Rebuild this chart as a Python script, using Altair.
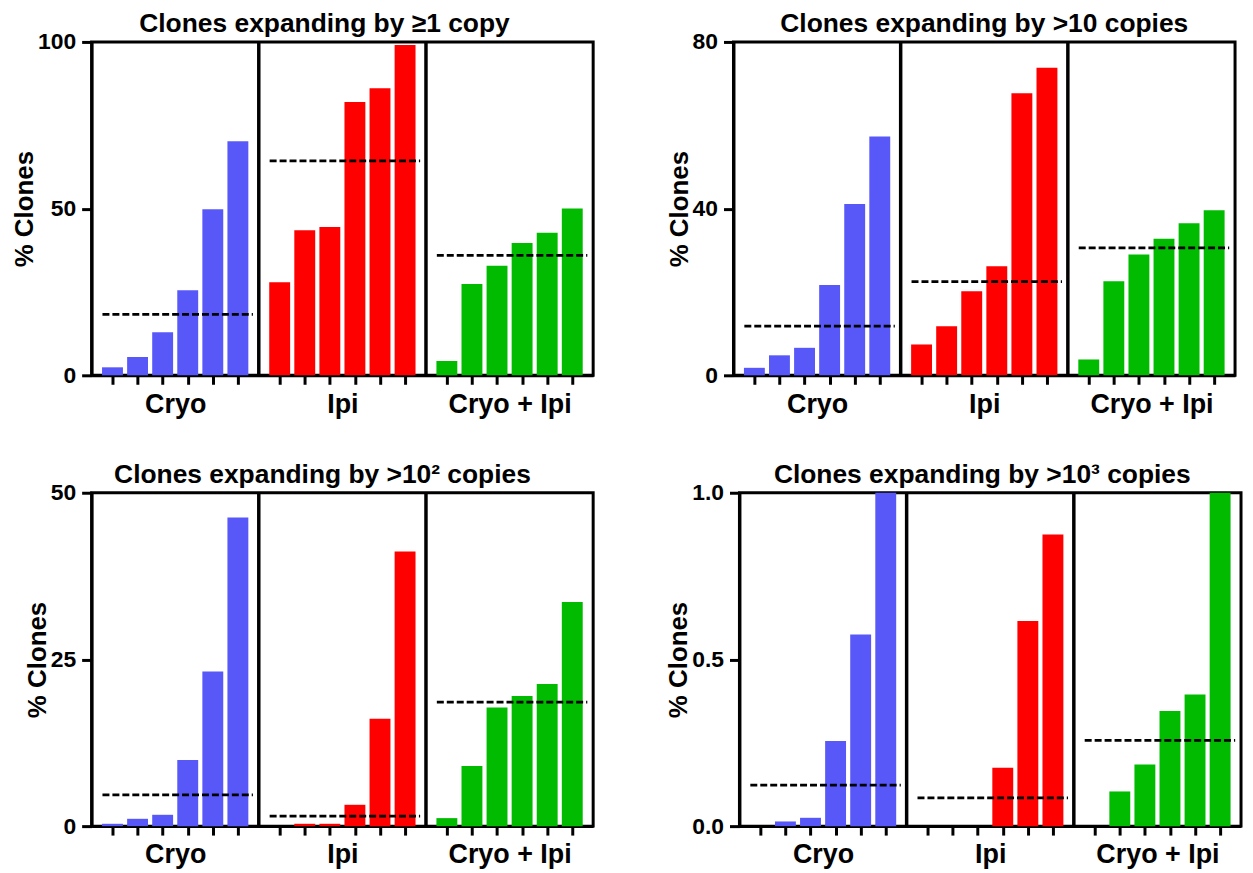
import altair as alt
import pandas as pd

GROUPS = ["Cryo", "Ipi", "Cryo + Ipi"]
COLORS = ["#5858F8", "#FF0000", "#00BB00"]

TITLES = [
    "Clones expanding by ≥1 copy",
    "Clones expanding by >10 copies",
    "Clones expanding by >10² copies",
    "Clones expanding by >10³ copies",
]

# panel 1: >=1 copy
P1_CRYO = [2.4, 5.5, 12.9, 25.5, 49.8, 70.2]
P1_IPI = [27.9, 43.5, 44.5, 82.0, 86.1, 99.1]
P1_COMBO = [4.3, 27.4, 32.9, 39.7, 42.8, 50.0]
P1_LINE = [18.3, 64.3, 36.0]

# panel 2: >10 copies
P2_CRYO = [1.8, 4.8, 6.6, 21.7, 41.1, 57.3]
P2_IPI = [7.4, 11.8, 20.2, 26.2, 67.7, 73.8]
P2_COMBO = [3.8, 22.6, 29.0, 32.8, 36.5, 39.6]
P2_LINE = [11.8, 22.5, 30.6]

# panel 3: >10^2 copies
P3_CRYO = [0.35, 1.1, 1.7, 9.9, 23.2, 46.3]
P3_IPI = [0.0, 0.35, 0.35, 3.2, 16.1, 41.2]
P3_COMBO = [1.2, 9.0, 17.8, 19.5, 21.3, 33.6]
P3_LINE = [4.7, 1.5, 18.6]

# panel 4: >10^3 copies
P4_CRYO = [0.0, 0.014, 0.025, 0.255, 0.575, 1.0]
P4_IPI = [0.0, 0.0, 0.0, 0.175, 0.615, 0.875]
P4_COMBO = [0.0, 0.104, 0.185, 0.345, 0.395, 1.0]
P4_LINE = [0.123, 0.085, 0.257]

Y_MAX = [100, 80, 50, 1.0]
Y_TICKS = [[0, 50, 100], [0, 40, 80], [0, 25, 50], [0, 0.5, 1.0]]
Y_FORMAT = ["d", "d", "d", ".1f"]
TITLE_DX = [-18, 0, -20, -8]

FONT = "Liberation Sans"


def make_panel(i, cryo, ipi, combo, line):
    rows = []
    for g, vals in enumerate([cryo, ipi, combo]):
        for k, v in enumerate(vals):
            rows.append({"group": GROUPS[g], "g": g, "k": k, "value": v})
    df = pd.DataFrame(rows)
    line_df = pd.DataFrame({"group": GROUPS, "g": [0, 1, 2], "value": line})
    sep_df = pd.DataFrame({"sep": [1, 2]})

    xscale = alt.Scale(domain=[0, 60], nice=False, zero=False)
    yscale = alt.Scale(domain=[0, Y_MAX[i]], nice=False)

    bar_ticks = [20 * g + 2.5 + 3 * k for g in range(3) for k in range(6)]
    group_centers = [10, 30, 50]
    label_expr = ("datum.value == 10 ? 'Cryo' : datum.value == 30 ? 'Ipi' : "
                  "datum.value == 50 ? 'Cryo + Ipi' : ''")

    tick_axis = alt.Axis(
        values=bar_ticks, labels=False, title=None, grid=False, orient="bottom",
        tickSize=9, tickWidth=3, tickColor="black",
        domainWidth=3, domainColor="black",
    )
    group_axis = alt.Axis(
        values=group_centers, labelExpr=label_expr, title=None, grid=False,
        orient="bottom", ticks=False, domain=False,
        labelFontSize=27, labelFontWeight="bold", labelFont=FONT, labelColor="black",
        labelPadding=16, labelOverlap=False, labelFlush=False,
    )
    y_axis = alt.Axis(
        values=Y_TICKS[i], format=Y_FORMAT[i], title="% Clones", grid=False,
        orient="left",
        tickSize=10, tickWidth=3, tickColor="black",
        domainWidth=3, domainColor="black",
        labelFontSize=23, labelFontWeight="bold", labelFont=FONT, labelColor="black",
        labelPadding=6, labelFlush=False,
        titleFontSize=26, titleFontWeight="bold", titleFont=FONT, titleColor="black",
        titlePadding=0,
    )

    bars = alt.Chart(df).transform_calculate(
        x0="20 * datum.g + 1.25 + 3 * datum.k",
        x1="20 * datum.g + 3.75 + 3 * datum.k",
    ).mark_bar().encode(
        x=alt.X("x0:Q", scale=xscale, axis=tick_axis),
        x2="x1:Q",
        y=alt.Y("value:Q", scale=yscale, axis=y_axis),
        y2=alt.datum(0),
        color=alt.Color("group:N", scale=alt.Scale(domain=GROUPS, range=COLORS), legend=None),
    )

    median = alt.Chart(line_df).transform_calculate(
        a="20 * datum.g + 1.3",
        b="20 * datum.g + 19.3",
    ).mark_rule(strokeDash=[7, 3], strokeWidth=2.8, color="black").encode(
        x=alt.X("a:Q", scale=xscale, axis=None),
        x2="b:Q",
        y=alt.Y("value:Q", scale=yscale, axis=None),
    )

    labels = alt.Chart(line_df).transform_calculate(
        c="20 * datum.g + 10",
    ).mark_point(opacity=0).encode(
        x=alt.X("c:Q", scale=xscale, axis=group_axis),
        y=alt.Y("value:Q", scale=yscale, axis=None),
    )

    seps = alt.Chart(sep_df).transform_calculate(
        xs="datum.sep * 20"
    ).mark_rule(color="black", strokeWidth=3.5).encode(
        x=alt.X("xs:Q", scale=xscale, axis=None),
    )

    return alt.layer(bars, median, seps, labels).resolve_axis(
        x="independent", y="independent"
    ).properties(
        width=504, height=335,
        title=alt.TitleParams(
            TITLES[i], fontSize=26.5, fontWeight="bold", font=FONT, color="black",
            offset=-7, anchor="middle", frame="group", dx=TITLE_DX[i],
        ),
    )


p1 = make_panel(0, P1_CRYO, P1_IPI, P1_COMBO, P1_LINE)
p2 = make_panel(1, P2_CRYO, P2_IPI, P2_COMBO, P2_LINE)
p3 = make_panel(2, P3_CRYO, P3_IPI, P3_COMBO, P3_LINE)
p4 = make_panel(3, P4_CRYO, P4_IPI, P4_COMBO, P4_LINE)

row1 = alt.hconcat(p1, p2, spacing=69)
row2 = alt.hconcat(p3, p4, spacing=69)

chart = alt.vconcat(row1, row2, spacing=42).properties(
    padding={"left": 2, "top": 0, "right": 2, "bottom": 0},
).configure(
    font=FONT,
    view=alt.ViewConfig(stroke="black", strokeWidth=3),
)

chart.save("out.html", embed_options={"renderer": "svg", "actions": False})
